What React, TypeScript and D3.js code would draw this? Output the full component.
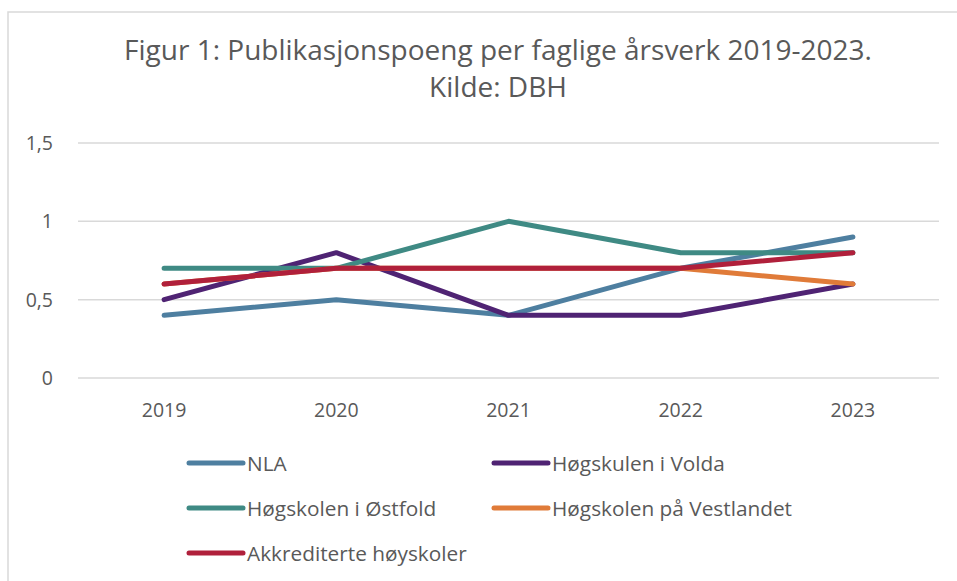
import { useEffect, useRef } from 'react';
import * as d3 from 'd3';

const years = ['2019', '2020', '2021', '2022', '2023'];
const yTicks = [0, 0.5, 1, 1.5];

const nla = [0.4, 0.5, 0.4, 0.7, 0.9];
const volda = [0.5, 0.8, 0.4, 0.4, 0.6];
const ostfold = [0.7, 0.7, 1.0, 0.8, 0.8];
const vestlandet = [0.6, 0.7, 0.7, 0.7, 0.6];
const akkrediterte = [0.6, 0.7, 0.7, 0.7, 0.8];

const seriesNames = ['NLA', 'Høgskulen i Volda', 'Høgskolen i Østfold', 'Høgskolen på Vestlandet', 'Akkrediterte høyskoler'];
const seriesColors = ['#4E7FA0', '#4F2373', '#3F8A84', '#E07B39', '#B0203B'];

const W = 957;
const H = 581;

const App = () => {
    const svgRef = useRef<SVGSVGElement>(null);

    useEffect(() => {
        const svg = d3.select(svgRef.current);
        svg.selectAll('*').remove();

        const font = '"Open Sans", sans-serif';
        const textColor = '#595959';
        const values = [nla, volda, ostfold, vestlandet, akkrediterte];

        // outer chart border
        svg.append('rect')
            .attr('x', 8).attr('y', 12)
            .attr('width', W + 20).attr('height', H + 20)
            .attr('fill', 'white').attr('stroke', '#D9D9D9').attr('stroke-width', 1.5);

        svg.append('text')
            .attr('x', 498).attr('y', 60)
            .attr('text-anchor', 'middle')
            .attr('font-family', font).attr('font-size', 28)
            .attr('fill', textColor)
            .text('Figur 1: Publikasjonspoeng per faglige årsverk 2019-2023.');
        svg.append('text')
            .attr('x', 498).attr('y', 97)
            .attr('text-anchor', 'middle')
            .attr('font-family', font).attr('font-size', 28)
            .attr('fill', textColor)
            .text('Kilde: DBH');

        const x = d3.scaleBand().domain(years).range([78, 939]);
        const y = d3.scaleLinear().domain([0, 1.5]).range([378, 143]);

        svg.append('g').selectAll('line')
            .data(yTicks)
            .enter().append('line')
            .attr('x1', 78).attr('x2', 939)
            .attr('y1', d => y(d)).attr('y2', d => y(d))
            .attr('stroke', '#D9D9D9').attr('stroke-width', 1.5);

        svg.append('g').selectAll('text')
            .data(yTicks)
            .enter().append('text')
            .attr('x', 53).attr('y', d => y(d) + 7)
            .attr('text-anchor', 'end')
            .attr('font-family', font).attr('font-size', 19.5)
            .attr('fill', textColor)
            .text(d => String(d).replace('.', ','));

        svg.append('g').selectAll('text')
            .data(years)
            .enter().append('text')
            .attr('x', d => x(d)! + x.bandwidth() / 2).attr('y', 417)
            .attr('text-anchor', 'middle')
            .attr('font-family', font).attr('font-size', 19.5)
            .attr('fill', textColor)
            .text(d => d);

        const line = d3.line<number>()
            .x((d, i) => x(years[i])! + x.bandwidth() / 2)
            .y(d => y(d));

        svg.append('g').selectAll('path')
            .data(values)
            .enter().append('path')
            .attr('d', d => line(d))
            .attr('fill', 'none')
            .attr('stroke', (d, i) => seriesColors[i])
            .attr('stroke-width', 5)
            .attr('stroke-linecap', 'round')
            .attr('stroke-linejoin', 'round');

        const legend = svg.append('g').selectAll('g')
            .data(seriesNames)
            .enter().append('g')
            .attr('transform', (d, i) => `translate(${i % 2 === 0 ? 189 : 494},${463 + Math.floor(i / 2) * 45})`);
        legend.append('line')
            .attr('x1', 0).attr('x2', 54)
            .attr('stroke', (d, i) => seriesColors[i])
            .attr('stroke-width', 5)
            .attr('stroke-linecap', 'round');
        legend.append('text')
            .attr('x', 58).attr('y', 7.5)
            .attr('font-family', font).attr('font-size', 20.8)
            .attr('fill', textColor)
            .text(d => d);
    }, []);

    return (
        <svg ref={svgRef} width={W} height={H} style={{ position: 'absolute', left: 0, top: 0 }} />
    );
};

export default App;
